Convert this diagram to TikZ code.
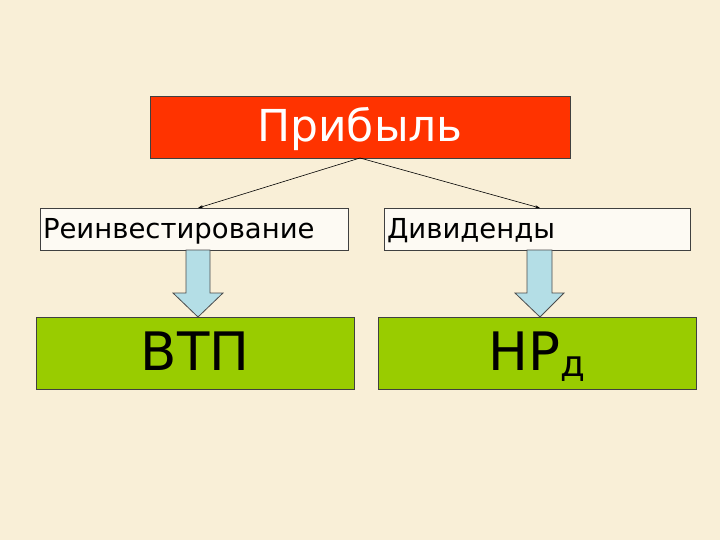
\documentclass[tikz,border=0pt]{standalone}
\usepackage{fontspec}
\setmainfont{DejaVu Sans}
\usetikzlibrary{arrows.meta,calc}
\definecolor{bg}{HTML}{F9EFD7}
\definecolor{topred}{HTML}{FF3300}
\definecolor{leafgreen}{HTML}{99CC00}
\definecolor{arrowblue}{HTML}{B4DEE6}
\tikzset{
  box/.style={draw=black!75, line width=0.8pt, inner sep=0pt, outer sep=0pt},
  midbox/.style={box, fill=white!70!bg, minimum width=308pt, minimum height=42pt, text width=302pt, text height=31pt, text depth=11pt, align=left, font=\fontsize{27.5}{30}\selectfont},
  greenbox/.style={box, fill=leafgreen, minimum width=318pt, minimum height=72pt, text height=53pt, text depth=19pt, font=\fontsize{53}{58}\selectfont},
  thin/.style={draw=black, line width=0.6pt, -{Stealth[length=5pt,width=3pt]}},
  blockarrow/.style={draw=black!70, line width=0.8pt, fill=arrowblue}
}
\begin{document}
\begin{tikzpicture}[x=1pt,y=-1pt]
\useasboundingbox (0,0) rectangle (720,540);
\fill[bg] (0,0) rectangle (720,540);
\node[box, fill=topred, minimum width=420pt, minimum height=62pt, text height=46pt, text depth=16pt, text=white, font=\fontsize{44}{50}\selectfont] (top) at (360,127) {Прибыль};
\node[midbox] (reinv) at (194,229) {Реинвестирование};
\node[midbox, minimum width=306pt, text width=300pt] (div) at (537,229) {Дивиденды};
\node[greenbox] (vtp) at (195,353) {ВТП};
\node[greenbox] (nrd) at (537,353) {НР\raisebox{-0.12em}{\fontsize{36}{40}\selectfont д}};
\coordinate (tl) at (198,208);
\coordinate (tr) at (540,208);
\draw[thin] (top.south) -- (tl);
\draw[thin] (top.south) -- (tr);
% block arrows
\draw[blockarrow] ($(reinv.south)+(-8,0)$) -- ++(0,43) -- ++(-13,0) -- (vtp.north -| 198,0) -- ++(25,-24) -- ++(-13,0) -- ++(0,-43) -- cycle;
\draw[blockarrow] ($(div.south)+(-10,0)$) -- ++(0,43) -- ++(-12,0) -- (nrd.north -| 540,0) -- ++(24,-24) -- ++(-12,0) -- ++(0,-43) -- cycle;
\end{tikzpicture}
\end{document}
